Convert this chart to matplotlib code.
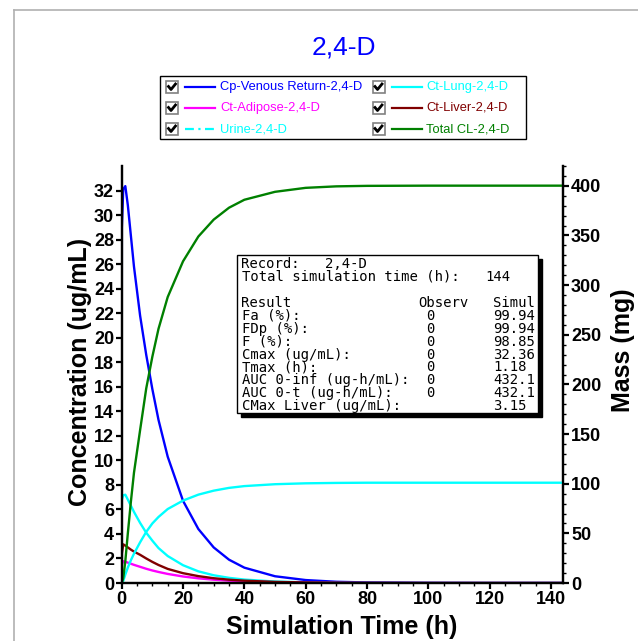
import matplotlib.pyplot as plt
from matplotlib.patches import Rectangle
from matplotlib.lines import Line2D
from matplotlib.ticker import MultipleLocator

# figure size in pixels
W, H = 638, 641

# simulation results
time_h = [0, 0.05, 0.5, 1.18, 2, 3, 4, 6, 8, 10, 12, 15, 20, 25, 30, 35, 40, 50, 60, 70, 80, 100, 120, 144]
cp_venous = [0, 29.0, 32.1, 32.36, 30.8, 28.3, 25.8, 21.8, 18.6, 15.8, 13.3, 10.3, 6.7, 4.4, 2.9, 1.9, 1.25,
             0.55, 0.24, 0.1, 0.045, 0.01, 0, 0]
ct_lung = [0, 6.8, 7.15, 7.2, 6.8, 6.3, 5.8, 4.9, 4.1, 3.45, 2.85, 2.2, 1.45, 0.95, 0.63, 0.42, 0.28,
           0.12, 0.05, 0.02, 0.01, 0, 0, 0]
ct_adipose = [0, 1.5, 1.78, 1.73, 1.66, 1.57, 1.48, 1.32, 1.16, 1.02, 0.9, 0.74, 0.53, 0.38, 0.27, 0.19, 0.13,
              0.06, 0.03, 0.012, 0.005, 0, 0, 0]
ct_liver = [0, 2.4, 3.15, 3.05, 2.9, 2.72, 2.56, 2.3, 2.0, 1.72, 1.47, 1.15, 0.8, 0.56, 0.39, 0.27, 0.19,
            0.09, 0.045, 0.02, 0.01, 0, 0, 0]
urine_mg = [0, 0.2, 2, 8.5, 15.5, 23, 29.5, 41, 51.5, 60, 66.5, 74.5, 83, 89, 93, 95.8, 97.6,
            99.5, 100.4, 100.8, 101, 101, 101, 101]
total_cl_mg = [0, 0, 5, 22, 50, 82, 111, 154, 196, 228, 256, 288, 324, 349, 366, 378, 386,
               394, 398, 399.5, 400, 400.2, 400.2, 400.2]

conc_ticks = list(range(0, 33, 2))
mass_ticks = list(range(0, 401, 50))

legend_labels = ["Cp-Venous Return-2,4-D", "Ct-Lung-2,4-D", "Ct-Adipose-2,4-D",
                 "Ct-Liver-2,4-D", "Urine-2,4-D", "Total CL-2,4-D"]

info_labels = ["Fa (%):", "FDp (%):", "F (%):", "Cmax (ug/mL):", "Tmax (h):",
               "AUC 0-inf (ug-h/mL):", "AUC 0-t (ug-h/mL):", "CMax Liver (ug/mL):"]
info_observ = ["0", "0", "0", "0", "0", "0", "0", ""]
info_simul = ["99.94", "99.94", "98.85", "32.36", "1.18", "432.1", "432.1", "3.15"]

BLUE = "#0000FF"
CYAN = "#00FFFF"
MAGENTA = "#FF00FF"
DARKRED = "#800000"
GREEN = "#008000"


def fx(x):
    return x / W


def fy(y):
    return 1 - y / H


plt.rcParams['font.family'] = ['Liberation Sans', 'DejaVu Sans']

fig = plt.figure(figsize=(W / 100, H / 100), dpi=100)

# light panel frame
fig.add_artist(Line2D([fx(14), fx(14)], [fy(10), fy(700)], color="#b0b0b0", lw=1.2))
fig.add_artist(Line2D([fx(14), fx(700)], [fy(10), fy(10)], color="#b0b0b0", lw=1.2))

left, right, top, bottom = 121.7, 563.3, 166, 583
ax = fig.add_axes([fx(left), fy(bottom), (right - left) / W, (bottom - top) / H])
ax2 = ax.twinx()

ax.plot(time_h, cp_venous, color=BLUE, lw=1.7)
ax.plot(time_h, ct_lung, color=CYAN, lw=1.7)
ax.plot(time_h, ct_adipose, color=MAGENTA, lw=1.7)
ax.plot(time_h, ct_liver, color=DARKRED, lw=1.7)
ax2.plot(time_h, urine_mg, color=CYAN, lw=1.7)
ax2.plot(time_h, total_cl_mg, color=GREEN, lw=1.7)

ax.set_xlim(0, 144)
ax.set_ylim(0, 34)
ax2.set_ylim(0, 420)

ax.xaxis.set_major_locator(MultipleLocator(20))
ax.xaxis.set_minor_locator(MultipleLocator(5))
ax.set_yticks(conc_ticks)
ax2.set_yticks(mass_ticks)
ax2.yaxis.set_minor_locator(MultipleLocator(10))

for a in (ax, ax2):
    a.spines['top'].set_visible(False)
    for s in ('left', 'right', 'bottom'):
        a.spines[s].set_linewidth(1.6)
    a.tick_params(which='major', direction='out', length=4.5, width=1.6, labelsize=13, pad=1)
    a.tick_params(which='minor', direction='out', length=2.5, width=1.0)

for lab in ax.get_xticklabels() + ax.get_yticklabels() + ax2.get_yticklabels():
    lab.set_fontweight('bold')

# axis titles
fig.text(fx(80), fy(372), "Concentration (ug/mL)", rotation=90, ha='center', va='center',
         fontsize=18, fontweight='bold')
fig.text(fx(623), fy(350), "Mass (mg)", rotation=90, ha='center', va='center',
         fontsize=18, fontweight='bold')
fig.text(fx(342), fy(627), "Simulation Time (h)", ha='center', va='center',
         fontsize=18, fontweight='bold')
fig.text(fx(344), fy(47), "2,4-D", ha='center', va='center', fontsize=19, color=BLUE)

# legend box with check boxes
fig.add_artist(Rectangle((fx(160), fy(139)), (526 - 160) / W, (139 - 76) / H,
                         transform=fig.transFigure, facecolor='white', edgecolor='black', lw=1))
leg_colors = [BLUE, CYAN, MAGENTA, DARKRED, CYAN, GREEN]
leg_styles = ['-', '-', '-', '-', (0, (4, 2, 1, 2)), '-']
row_y = [87, 108, 129]
col_x = [166, 372.5]
for i, lab in enumerate(legend_labels):
    cx = col_x[i % 2]
    cy = row_y[i // 2]
    fig.add_artist(Rectangle((fx(cx), fy(cy + 6)), 12 / W, 12 / H, transform=fig.transFigure,
                             facecolor='white', edgecolor='#808080', lw=1.2))
    fig.add_artist(Line2D([fx(cx + 2.5), fx(cx + 5), fx(cx + 9.5)],
                          [fy(cy - 0.5), fy(cy + 2.5), fy(cy - 3)],
                          color='black', lw=2.0, transform=fig.transFigure))
    fig.add_artist(Line2D([fx(cx + 19), fx(cx + 49)], [fy(cy), fy(cy)], color=leg_colors[i],
                          lw=1.6, linestyle=leg_styles[i], transform=fig.transFigure))
    fig.text(fx(cx + 54), fy(cy), lab, color=leg_colors[i], fontsize=9.3, ha='left', va='center')

# results box with shadow
bx0, bx1, by0, by1 = 236.5, 538, 254.5, 413
fig.add_artist(Rectangle((fx(bx0 + 4), fy(by1 + 4)), (bx1 - bx0) / W, (by1 - by0) / H,
                         transform=fig.transFigure, facecolor='black', edgecolor='black', lw=1))
fig.add_artist(Rectangle((fx(bx0), fy(by1)), (bx1 - bx0) / W, (by1 - by0) / H,
                         transform=fig.transFigure, facecolor='white', edgecolor='black', lw=1))

mono = dict(family='DejaVu Sans Mono', fontsize=10, va='center', ha='left', color='black',
            fontweight='normal')
pitch = 8.4
x0 = 241.5
fig.text(fx(x0), fy(264), "Record:", **mono)
fig.text(fx(x0 + 10 * pitch), fy(264), "2,4-D", **mono)
fig.text(fx(x0), fy(277), "Total simulation time (h):", **mono)
fig.text(fx(x0 + 29 * pitch), fy(277), "144", **mono)
fig.text(fx(x0), fy(303), "Result", **mono)
fig.text(fx(x0 + 21 * pitch), fy(303), "Observ", **mono)
fig.text(fx(x0 + 30 * pitch), fy(303), "Simul", **mono)
for i in range(len(info_labels)):
    yy = 316 + i * 12.85
    fig.text(fx(x0), fy(yy), info_labels[i], **mono)
    fig.text(fx(x0 + 22 * pitch), fy(yy), info_observ[i], **mono)
    fig.text(fx(x0 + 30 * pitch), fy(yy), info_simul[i], **mono)

fig.savefig("out.png", dpi=100)
